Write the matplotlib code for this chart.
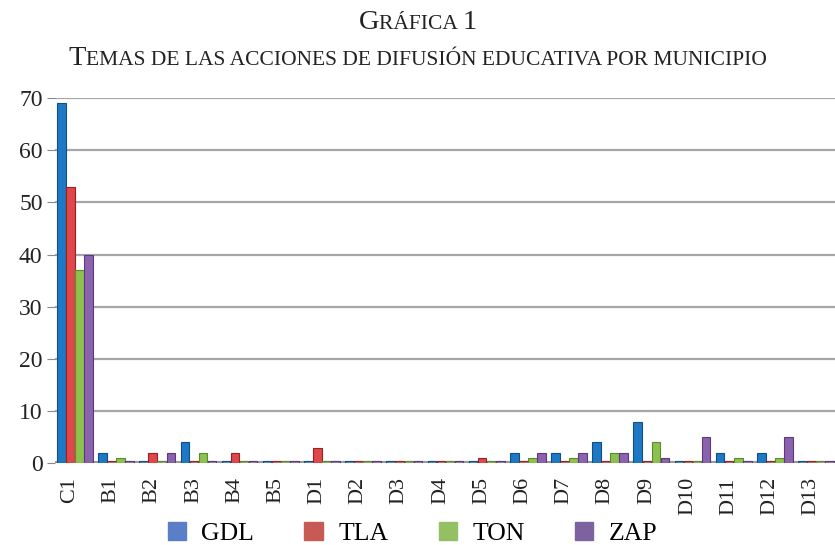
import numpy as np
import matplotlib
matplotlib.use("Agg")
import matplotlib.pyplot as plt

plt.rcParams['font.family'] = ['Liberation Serif', 'DejaVu Serif']

# data
categories = ["C1", "B1", "B2", "B3", "B4", "B5", "D1", "D2", "D3", "D4",
              "D5", "D6", "D7", "D8", "D9", "D10", "D11", "D12", "D13"]
gdl = [69, 2, 0, 4, 0, 0, 0, 0, 0, 0, 0, 2, 2, 4, 8, 0, 2, 2, 0]
tla = [53, 0, 2, 0, 2, 0, 3, 0, 0, 0, 1, 0, 0, 0, 0, 0, 0, 0, 0]
ton = [37, 1, 0, 2, 0, 0, 0, 0, 0, 0, 0, 1, 1, 2, 4, 0, 1, 1, 0]
zap = [40, 0, 2, 0, 0, 0, 0, 0, 0, 0, 0, 2, 2, 2, 1, 5, 0, 5, 0]
series = ["GDL", "TLA", "TON", "ZAP"]

face = ["#1f78c4", "#e0474a", "#8cc14f", "#8b62ad"]
edge = ["#0d4f8a", "#9c1f22", "#5a8a2a", "#5c3a7c"]
legend_col = ["#5b7fc6", "#c85a55", "#93c062", "#7d62a0"]

fig = plt.figure(figsize=(8.35, 5.45), dpi=100)
ax = fig.add_axes([0.066, 0.150, 0.934, 0.670])

x = np.arange(len(categories))
w = 0.22
data = [gdl, tla, ton, zap]
for k, vals in enumerate(data):
    vals = np.array(vals, dtype=float)
    pos = x + 0.12 + (k - 1.5) * w
    h = np.where(vals > 0, vals, 0.35)
    fc = [face[k] if v > 0 else face[k] + "66" for v in vals]
    ax.bar(pos, h, width=w * 0.95, color=fc, edgecolor=edge[k],
           linewidth=0.8, zorder=3, label=series[k])

ax.set_ylim(0, 70)
ax.set_xlim(-0.36, 18.58)
ax.set_yticks(np.arange(0, 71, 10))
ax.set_xticks(x)
ax.set_xticklabels(categories, rotation=90, fontsize=16, color="#222222")
ax.tick_params(axis="y", labelsize=17, length=6, color="#888888",
               labelcolor="#222222", pad=3)
ax.tick_params(axis="x", length=0, pad=10)
ax.grid(axis="y", color="#a6a6a6", linewidth=1.6, zorder=0)
ax.axhline(0, color="#9a9a9a", linewidth=3, zorder=2)
for s in ax.spines.values():
    s.set_visible(False)

# legend
handles = [plt.Rectangle((0, 0), 1, 1, color=c) for c in legend_col]
fig.legend(handles, series, loc="lower center", ncol=4, frameon=False,
           bbox_to_anchor=(0.494, -0.043), fontsize=18.5, handlelength=0.72,
           handleheight=0.72, handletextpad=0.6, columnspacing=1.95)


def small_caps(y, pieces, color="#222222"):
    # pieces: list of (text, size); centre the whole run at x=0.5
    r = fig.canvas.get_renderer()
    texts = [fig.text(0, y, t, fontsize=s, ha="left", va="baseline", color=color)
             for t, s in pieces]
    widths = [t.get_window_extent(r).width for t in texts]
    total = sum(widths)
    xpos = (fig.bbox.width - total) / 2
    for t, wd in zip(texts, widths):
        t.set_x(xpos / fig.bbox.width)
        xpos += wd


small_caps(1 - 29 / 545, [("G", 20.5), ("RÁFICA ", 15.5), ("1", 20.5)])
small_caps(1 - 65 / 545, [("T", 20.5), ("EMAS DE LAS ACCIONES DE DIFUSIÓN EDUCATIVA POR MUNICIPIO", 15.5)])

fig.savefig("out.png", dpi=100)
